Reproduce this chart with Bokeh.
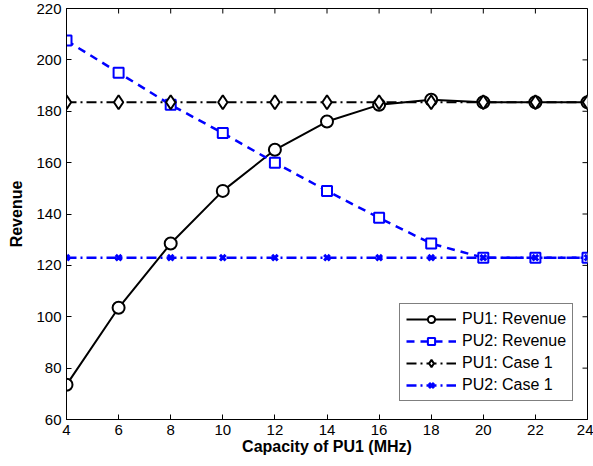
import math
from bokeh.plotting import figure
from bokeh.models import Legend, LegendItem, FixedTicker, Range1d
from bokeh.embed import file_html
from bokeh.resources import INLINE

capacity = [4, 6, 8, 10, 12, 14, 16, 18, 20, 22, 24]
pu1_revenue = [73.5, 103.5, 128.5, 149, 165, 176, 182.5, 184.5, 183.5, 183.5, 183.5]
pu2_revenue = [207.5, 195, 182.5, 171.5, 160, 149, 138.5, 128.5, 123, 123, 123]
pu1_case1 = [183.5] * 11
pu2_case1 = [123] * 11
x_ticks = [4, 6, 8, 10, 12, 14, 16, 18, 20, 22, 24]
y_ticks = [60, 80, 100, 120, 140, 160, 180, 200, 220]

FONT = "Liberation Sans"

p = figure(width=593, height=466, output_backend="svg", toolbar_location=None,
           x_range=Range1d(4, 24), y_range=Range1d(60, 220),
           min_border_left=66, min_border_right=6, min_border_top=8, min_border_bottom=47)
p.grid.visible = False
p.outline_line_color = "black"
p.outline_line_width = 1
p.background_fill_color = "white"
p.border_fill_color = "white"

for ax in (p.xaxis[0], p.yaxis[0]):
    ax.major_tick_in = 5
    ax.major_tick_out = 0
    ax.minor_tick_line_color = None
    ax.major_label_text_font = FONT
    ax.major_label_text_font_size = "15px"
    ax.major_label_text_color = "black"
    ax.axis_label_text_font = FONT
    ax.axis_label_text_font_size = "16px"
    ax.axis_label_text_font_style = "bold"
    ax.axis_label_text_color = "black"
    ax.axis_line_color = "black"
p.xaxis[0].ticker = FixedTicker(ticks=x_ticks)
p.yaxis[0].ticker = FixedTicker(ticks=y_ticks)
p.xaxis[0].axis_label = "Capacity of PU1 (MHz)"
p.yaxis[0].axis_label = "Revenue"
p.xaxis[0].axis_label_standoff = 0
p.yaxis[0].axis_label_standoff = 8
p.xaxis[0].major_label_standoff = 5
p.yaxis[0].major_label_standoff = 5

# mirrored inward ticks on the top and right edges
p.scatter([24] * len(y_ticks), y_ticks, marker="dash", size=10, line_color="black", line_width=1)
p.scatter(x_ticks, [220] * len(x_ticks), marker="dash", size=10, angle=math.pi / 2,
          line_color="black", line_width=1)

# PU1 revenue
l1 = p.line(capacity, pu1_revenue, line_color="black", line_width=2)
m1 = p.scatter(capacity, pu1_revenue, marker="circle", size=12, fill_color="white",
               line_color="black", line_width=2)
# PU2 revenue
l2 = p.line(capacity, pu2_revenue, line_color="blue", line_width=2.5, line_dash="8 6")
m2 = p.scatter(capacity, pu2_revenue, marker="square", size=10, fill_color="white",
               line_color="blue", line_width=2)
# PU1 case 1
l3 = p.line(capacity, pu1_case1, line_color="black", line_width=2, line_dash="10 4 2 4")
m3 = p.scatter(capacity, pu1_case1, marker="diamond", size=14, fill_color="white",
               line_color="black", line_width=2)
# PU2 case 1
l4 = p.line(capacity, pu2_case1, line_color="blue", line_width=2.5, line_dash="10 4 2 4")
m4 = p.scatter(capacity, pu2_case1, marker="x", size=8, line_color="blue", line_width=3)

legend = Legend(items=[
    LegendItem(label="PU1: Revenue", renderers=[l1, m1]),
    LegendItem(label="PU2: Revenue", renderers=[l2, m2]),
    LegendItem(label="PU1: Case 1", renderers=[l3, m3]),
    LegendItem(label="PU2: Case 1", renderers=[l4, m4]),
], location=(333, 18))
legend.label_text_font = FONT
legend.label_text_font_size = "16px"
legend.label_text_color = "black"
legend.glyph_width = 50
legend.glyph_height = 18
legend.label_height = 18
legend.spacing = 4
legend.padding = 6
legend.margin = 0
legend.label_standoff = 6
legend.border_line_color = "black"
legend.border_line_width = 1
legend.background_fill_alpha = 1
p.add_layout(legend, "center")

open("out.html", "w").write(file_html(p, INLINE))
